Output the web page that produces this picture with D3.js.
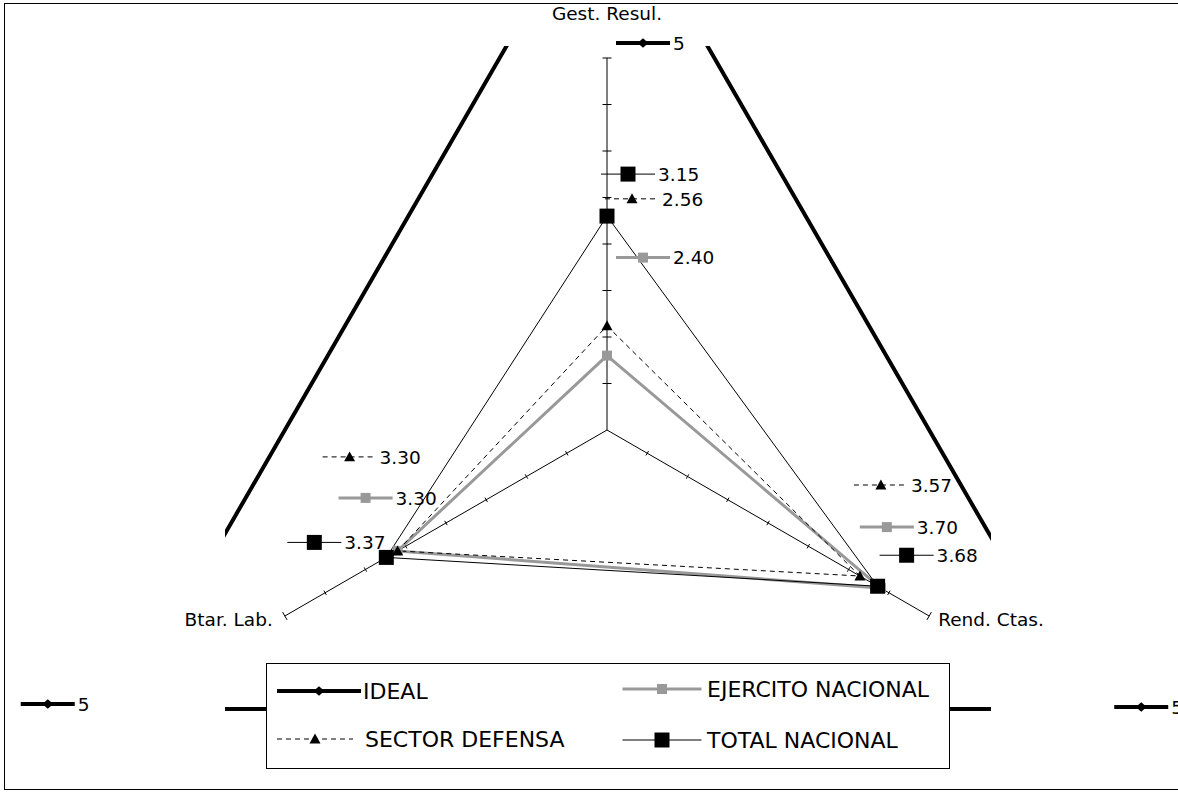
<!DOCTYPE html>
<html>
<head>
<meta charset="utf-8">
<script src="https://cdn.jsdelivr.net/npm/d3@7"></script>
<style>
  body { margin: 0; background: #fff; }
  svg { display: block; }
  text { font-family: "DejaVu Sans", Verdana, sans-serif; fill: #000; }
</style>
</head>
<body>
<svg id="chart" width="1178" height="796"></svg>
<script>
// ---- data ----
const axes = ["Gest. Resul.", "Rend. Ctas.", "Btar. Lab."];
const seriesNames = ["IDEAL", "EJERCITO NACIONAL", "SECTOR DEFENSA", "TOTAL NACIONAL"];
const idealValues = [5, 5, 5];
const ejercitoValues = [2.40, 3.70, 3.30];
const sectorValues = [2.56, 3.57, 3.30];
const totalValues = [3.15, 3.68, 3.37];
const radialDomain = [2, 4];
const radialTicks = d3.range(2, 4.0001, 0.25);

// ---- layout ----
const svg = d3.select("#chart");
const cx = 607, cy = 430, R = 372;
const r = d3.scaleLinear().domain(radialDomain).range([0, R]);
const angle = d3.scaleLinear().domain([0, axes.length]).range([0, 2 * Math.PI]);

const pos = (v, i) => {
  const a = angle(i), rr = r(v);
  return [cx + rr * Math.sin(a), cy - rr * Math.cos(a)];
};

// series styling
const styles = {
  "IDEAL":             { stroke: "#000", width: 4, dash: null,  marker: "diamond",  size: 11, fill: "#000" },
  "EJERCITO NACIONAL": { stroke: "#999", width: 3, dash: null,  marker: "square",   size: 10, fill: "#999" },
  "SECTOR DEFENSA":    { stroke: "#000", width: 1, dash: "5,4", marker: "triangle", size: 11, fill: "#000" },
  "TOTAL NACIONAL":    { stroke: "#000", width: 1, dash: null,  marker: "square",   size: 15, fill: "#000" }
};
const series = [
  { name: seriesNames[0], values: idealValues },
  { name: seriesNames[1], values: ejercitoValues },
  { name: seriesNames[2], values: sectorValues },
  { name: seriesNames[3], values: totalValues }
];

// data-label key offsets from each point (axis order: Gest, Rend, Btar)
const labelOffsets = {
  "IDEAL":             [[36, 171], [51, -2], [-76, -5]],
  "EJERCITO NACIONAL": [[36, -98], [6, -61], [-32, -53]],
  "SECTOR DEFENSA":    [[25, -127], [21, -91], [-48, -94]],
  "TOTAL NACIONAL":    [[21, -42], [29, -31], [-72, -15]]
};

function markerPath(type, s) {
  const h = s / 2;
  if (type === "square") return `M${-h},${-h}H${h}V${h}H${-h}Z`;
  if (type === "diamond") return `M${-h},0L0,${-h * 0.85}L${h},0L0,${h * 0.85}Z`;
  if (type === "triangle") return `M0,${-h}L${h},${h * 0.8}L${-h},${h * 0.8}Z`;
  return "";
}

// outer frame
svg.append("rect")
  .attr("x", 4.5).attr("y", 3.5).attr("width", 1200).attr("height", 786)
  .attr("fill", "none").attr("stroke", "#000").attr("stroke-width", 1);

// clip for the plot area
svg.append("defs").append("clipPath").attr("id", "plotClip")
  .append("rect").attr("x", 225).attr("y", 46).attr("width", 766).attr("height", 740);

// the ideal triangle lies mostly outside the value range, so it is clipped
const radialLine = d3.lineRadial()
  .angle((d, i) => angle(i))
  .radius(d => r(d))
  .curve(d3.curveLinearClosed);

svg.append("g").attr("clip-path", "url(#plotClip)")
  .append("path")
  .attr("transform", `translate(${cx},${cy})`)
  .attr("d", radialLine(idealValues))
  .attr("fill", "none")
  .attr("stroke", styles["IDEAL"].stroke)
  .attr("stroke-width", styles["IDEAL"].width);

// axes with tick marks
const axisG = svg.append("g");
axes.forEach((name, i) => {
  const [x2, y2] = pos(radialDomain[1], i);
  axisG.append("line")
    .attr("x1", cx).attr("y1", cy).attr("x2", x2).attr("y2", y2)
    .attr("stroke", "#000").attr("stroke-width", 1);
  const a = angle(i);
  const px = Math.cos(a), py = Math.sin(a); // perpendicular direction
  const half = i === 0 ? 4.5 : 2.5;
  radialTicks.slice(1).forEach(t => {
    const [tx, ty] = pos(t, i);
    const hh = t === radialDomain[1] ? 4.5 : half;
    axisG.append("line")
      .attr("x1", tx - px * hh).attr("y1", ty - py * hh)
      .attr("x2", tx + px * hh).attr("y2", ty + py * hh)
      .attr("stroke", "#000").attr("stroke-width", 1);
  });
});

// axis category labels
const axisLabelPlacement = [
  { dx: 0, dy: -38, anchor: "middle" },
  { dx: 9, dy: 10, anchor: "start" },
  { dx: -12, dy: 10, anchor: "end" }
];
axes.forEach((name, i) => {
  const [x2, y2] = pos(radialDomain[1], i);
  const p = axisLabelPlacement[i];
  svg.append("text")
    .attr("x", x2 + p.dx).attr("y", y2 + p.dy)
    .attr("text-anchor", p.anchor)
    .attr("font-size", "18.5px")
    .text(name);
});

// series polygons (ideal already drawn above)
const plotG = svg.append("g").attr("transform", `translate(${cx},${cy})`);
series.slice(1).forEach(s => {
  const st = styles[s.name];
  plotG.append("path")
    .attr("d", radialLine(s.values))
    .attr("fill", "none")
    .attr("stroke", st.stroke)
    .attr("stroke-width", st.width)
    .attr("stroke-linejoin", "miter")
    .attr("stroke-dasharray", st.dash);
});

// markers
series.forEach(s => {
  const st = styles[s.name];
  const g = svg.append("g").attr("clip-path", "url(#plotClip)");
  s.values.forEach((v, i) => {
    const [x, y] = pos(v, i);
    g.append("path")
      .attr("transform", `translate(${x},${y})`)
      .attr("d", markerPath(st.marker, st.size))
      .attr("fill", st.fill);
  });
});

// a key sample: line segment plus marker, centred at (x, y)
function drawKey(g, name, x, y, len) {
  const st = styles[name];
  g.append("line")
    .attr("x1", x - len / 2).attr("x2", x + len / 2)
    .attr("y1", y).attr("y2", y)
    .attr("stroke", st.stroke).attr("stroke-width", st.width)
    .attr("stroke-dasharray", st.dash);
  g.append("path")
    .attr("transform", `translate(${x},${y})`)
    .attr("d", markerPath(st.marker, st.size))
    .attr("fill", st.fill);
}

// data labels with their series key
const fmt = v => Number.isInteger(v) ? String(v) : v.toFixed(2);
const labelG = svg.append("g");
series.forEach(s => {
  s.values.forEach((v, i) => {
    const [x, y] = pos(v, i);
    const [ox, oy] = labelOffsets[s.name][i];
    const kx = x + ox, ky = y + oy, len = 54;
    drawKey(labelG, s.name, kx, ky, len);
    labelG.append("text")
      .attr("x", kx + len / 2 + 3).attr("y", ky)
      .attr("dy", "0.36em")
      .attr("font-size", "18.5px")
      .text(fmt(v));
  });
});

// legend
const legend = svg.append("g");
legend.append("rect")
  .attr("x", 266.5).attr("y", 663.5).attr("width", 683).attr("height", 105)
  .attr("fill", "#fff").attr("stroke", "#000").attr("stroke-width", 1);
const legendSlots = [
  { name: "IDEAL",             kx: 319, y: 691, len: 84, tx: 363 },
  { name: "EJERCITO NACIONAL", kx: 662, y: 689, len: 79, tx: 707 },
  { name: "SECTOR DEFENSA",    kx: 315, y: 739, len: 76, tx: 365 },
  { name: "TOTAL NACIONAL",    kx: 662, y: 740, len: 79, tx: 707 }
];
legendSlots.forEach(d => {
  drawKey(legend, d.name, d.kx, d.y, d.len);
  legend.append("text")
    .attr("x", d.tx).attr("y", d.y)
    .attr("dy", "0.36em")
    .attr("font-size", "22px")
    .text(d.name);
});
</script>
</body>
</html>
